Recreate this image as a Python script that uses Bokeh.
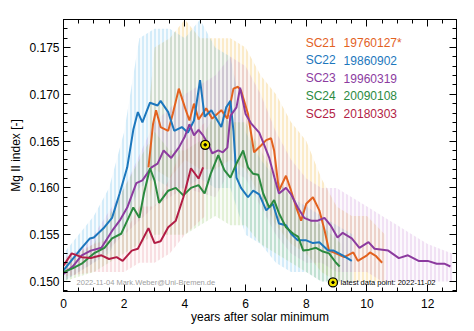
from bokeh.plotting import figure
from bokeh.models import Range1d, LinearAxis, Label, SingleIntervalTicker, FixedTicker, PrintfTickFormatter
from bokeh.embed import file_html
from bokeh.resources import INLINE

# ---------------- data ----------------
cycles = ["SC21", "SC22", "SC23", "SC24", "SC25"]
min_dates = ["19760127*", "19860902", "19960319", "20090108", "20180303"]
line_colors = ["#e3621f", "#1c77bd", "#8c3b9f", "#2b8a3f", "#b21d45"]
noise_colors = ["#f0b02a", "#55b2e6", "#c58bd6", "#8fc25c", "#e2808f"]

# smoothed series: years after minimum, Mg II index
t21 = [2.8, 2.95, 3.05, 3.2, 3.45, 3.6, 3.8, 4.0, 4.15, 4.3, 4.45, 4.7, 4.9, 5.2, 5.4, 5.6, 5.75, 5.85,
       6.08, 6.28, 6.5, 6.68, 6.84, 6.94, 7.1, 7.33, 7.5, 7.67, 7.83, 8.0, 8.22, 8.43, 8.6, 8.75, 8.98,
       9.25, 9.55, 9.7, 10.0, 10.1, 10.3, 10.5]
v21 = [0.1622, 0.1668, 0.1683, 0.1665, 0.1661, 0.1679, 0.1706, 0.1686, 0.1672, 0.1690, 0.1673, 0.1685,
       0.1674, 0.1683, 0.1674, 0.1706, 0.1708, 0.1704, 0.1679, 0.1638, 0.1645, 0.1651, 0.1653, 0.1640,
       0.1597, 0.1613, 0.1597, 0.1579, 0.1565, 0.1583, 0.1590, 0.1576, 0.1555, 0.1533, 0.1530, 0.1526,
       0.1531, 0.1522, 0.1528, 0.1531, 0.1527, 0.1520]

t22 = [0.0, 0.2, 0.4, 0.6, 0.87, 1.0, 1.35, 1.6, 1.85, 2.1, 2.3, 2.45, 2.6, 2.85, 3.1, 3.2, 3.45, 3.65,
       3.9, 4.1, 4.3, 4.5, 4.65, 4.87, 5.2, 5.36, 5.5, 5.6, 5.7, 5.85, 6.08, 6.25, 6.45, 6.68, 6.9, 7.1,
       7.33, 7.5, 7.72, 8.0, 8.22, 8.43, 8.72, 8.9, 9.2, 9.5]
v22 = [0.1512, 0.1520, 0.1528, 0.1536, 0.1546, 0.1547, 0.1558, 0.1568, 0.1594, 0.1622, 0.1662, 0.1681,
       0.1670, 0.1691, 0.1688, 0.1693, 0.1681, 0.1661, 0.1665, 0.1659, 0.1672, 0.1715, 0.1676, 0.1683,
       0.1665, 0.1686, 0.1693, 0.1661, 0.1611, 0.1600, 0.1590, 0.1597, 0.1593, 0.1576, 0.1583, 0.1562,
       0.1560, 0.1551, 0.1544, 0.1544, 0.1541, 0.1542, 0.1533, 0.1533, 0.1528, 0.1522]

t23 = [0.0, 0.3, 0.6, 0.9, 1.25, 1.6, 1.85, 2.1, 2.4, 2.6, 2.9, 3.1, 3.3, 3.55, 3.8, 4.0, 4.15, 4.3,
       4.45, 4.6, 4.75, 4.9, 5.1, 5.25, 5.4, 5.5, 5.7, 5.82, 6.0, 6.18, 6.45, 6.6, 6.78, 6.95, 7.1, 7.33,
       7.5, 7.72, 7.93, 8.15, 8.38, 8.6, 8.8, 9.03, 9.2, 9.5, 9.75, 10.05, 10.25, 10.7, 11.05, 11.35,
       11.7, 12.0, 12.3, 12.55, 12.75]
v23 = [0.1508, 0.1516, 0.1528, 0.1533, 0.1536, 0.1554, 0.1565, 0.1579, 0.1605, 0.1608, 0.1622, 0.1626,
       0.1640, 0.1632, 0.1643, 0.1655, 0.1668, 0.1656, 0.1662, 0.1656, 0.1648, 0.1637, 0.1640, 0.1638,
       0.1643, 0.1677, 0.1686, 0.1707, 0.1679, 0.1669, 0.1659, 0.1647, 0.1632, 0.1611, 0.1594, 0.1600,
       0.1593, 0.1579, 0.1568, 0.1565, 0.1565, 0.1568, 0.1560, 0.1547, 0.1552, 0.1546, 0.1536, 0.1542,
       0.1535, 0.1533, 0.1525, 0.1528, 0.1522, 0.1522, 0.1519, 0.1519, 0.1516]

t24 = [0.0, 0.3, 0.6, 1.0, 1.35, 1.6, 1.9, 2.1, 2.3, 2.5, 2.65, 2.85, 3.0, 3.15, 3.45, 3.7, 3.95, 4.2,
       4.45, 4.65, 4.85, 5.1, 5.3, 5.5, 5.7, 5.92, 6.08, 6.25, 6.42, 6.58, 6.78, 6.94, 7.1, 7.33, 7.57,
       7.73, 7.9, 8.1, 8.32, 8.55, 8.75, 8.98, 9.1]
v24 = [0.1510, 0.1514, 0.1519, 0.1530, 0.1536, 0.1546, 0.1551, 0.1565, 0.1579, 0.1568, 0.1594, 0.1621,
       0.1608, 0.1584, 0.1597, 0.1600, 0.1592, 0.1600, 0.1603, 0.1594, 0.1615, 0.1635, 0.1619, 0.1611,
       0.1626, 0.1640, 0.1622, 0.1615, 0.1614, 0.1594, 0.1579, 0.1587, 0.1573, 0.1558, 0.1551, 0.1548,
       0.1533, 0.1534, 0.1536, 0.1532, 0.1530, 0.1520, 0.1516]

t25 = [0.0, 0.27, 0.6, 0.9, 1.25, 1.5, 1.75, 1.95, 2.25, 2.45, 2.8, 3.0, 3.2, 3.45, 3.7, 3.95, 4.2,
       4.45, 4.6]
v25 = [0.1517, 0.1530, 0.1526, 0.1525, 0.1528, 0.1524, 0.1526, 0.1522, 0.1533, 0.1535, 0.1557, 0.1541,
       0.1543, 0.1558, 0.1565, 0.1590, 0.1621, 0.1610, 0.1622]

# spread of the daily values (upper / lower envelope)
nt21 = [2.8, 3.0, 3.5, 4.0, 4.5, 5.0, 5.5, 6.0, 6.5, 7.0, 7.5, 8.0, 8.5, 9.0, 9.5, 10.0, 10.6]
nh21 = [0.168, 0.175, 0.176, 0.178, 0.176, 0.176, 0.176, 0.175, 0.172, 0.170, 0.167, 0.165, 0.161,
        0.158, 0.157, 0.157, 0.155]
nl21 = [0.158, 0.162, 0.161, 0.163, 0.162, 0.162, 0.163, 0.162, 0.159, 0.156, 0.154, 0.153, 0.151,
        0.150, 0.150, 0.150, 0.150]
nt22 = [0, 0.5, 1.0, 1.5, 2.0, 2.5, 3.0, 3.5, 4.0, 4.5, 5.0, 5.5, 6.0, 6.5, 7.0, 7.5, 8.0, 8.5, 9.0, 9.55]
nh22 = [0.153, 0.155, 0.157, 0.160, 0.166, 0.176, 0.177, 0.177, 0.176, 0.178, 0.175, 0.174, 0.166,
        0.163, 0.161, 0.159, 0.158, 0.157, 0.156, 0.155]
nl22 = [0.150, 0.151, 0.152, 0.153, 0.156, 0.160, 0.161, 0.160, 0.160, 0.161, 0.160, 0.160, 0.155,
        0.154, 0.152, 0.151, 0.151, 0.150, 0.150, 0.150]
nt23 = [0, 1, 2, 3, 4, 5, 5.5, 6, 6.5, 7, 7.5, 8, 8.5, 9, 9.5, 10, 10.5, 11, 11.5, 12, 12.8]
nh23 = [0.152, 0.155, 0.160, 0.167, 0.170, 0.172, 0.174, 0.173, 0.170, 0.166, 0.163, 0.161, 0.160,
        0.160, 0.159, 0.158, 0.157, 0.156, 0.155, 0.154, 0.153]
nl23 = [0.150, 0.152, 0.155, 0.158, 0.160, 0.159, 0.162, 0.161, 0.158, 0.155, 0.153, 0.152, 0.152,
        0.151, 0.151, 0.151, 0.150, 0.150, 0.150, 0.150, 0.150]
nt24 = [0, 1, 2, 2.5, 3, 3.5, 4, 4.5, 5, 5.5, 6, 6.5, 7, 7.5, 8, 8.5, 9.15]
nh24 = [0.152, 0.154, 0.160, 0.163, 0.166, 0.164, 0.164, 0.165, 0.168, 0.167, 0.167, 0.164, 0.161,
        0.159, 0.157, 0.156, 0.154]
nl24 = [0.150, 0.151, 0.153, 0.154, 0.155, 0.155, 0.155, 0.156, 0.157, 0.156, 0.156, 0.154, 0.153,
        0.152, 0.151, 0.150, 0.150]
nt25 = [0, 1, 2, 2.5, 3, 3.5, 4, 4.67]
nh25 = [0.1525, 0.154, 0.155, 0.158, 0.158, 0.161, 0.165, 0.167]
nl25 = [0.1505, 0.151, 0.151, 0.152, 0.152, 0.153, 0.155, 0.157]

latest_t = 4.67
latest_v = 0.1646
latest_date = "2022-11-02"
credit = "2022-11-04  Mark.Weber@Uni-Bremen.de"

smooth = [(t21, v21), (t22, v22), (t23, v23), (t24, v24), (t25, v25)]
noise = [(nt21, nh21, nl21), (nt22, nh22, nl22), (nt23, nh23, nl23), (nt24, nh24, nl24), (nt25, nh25, nl25)]

FONT = "Liberation Sans"
X0, X1 = 0.0, 12.95
Y0, Y1 = 0.14893, 0.17799
XMAJ, XMIN_N = 2, 4
YMAJ, YMIN_N = 0.005, 5

p = figure(width=474, height=331, output_backend="svg", toolbar_location=None,
           x_range=Range1d(X0, X1), y_range=Range1d(Y0, Y1),
           min_border_left=63, min_border_right=18, min_border_top=19, min_border_bottom=40)
p.xgrid.visible = False
p.ygrid.visible = False
p.outline_line_color = "black"
p.outline_line_width = 1
p.background_fill_color = "white"
p.border_fill_color = "white"

bottom_ax = p.below[0]
left_ax = p.left[0]
bottom_ax.ticker = SingleIntervalTicker(interval=XMAJ, num_minor_ticks=XMIN_N)
left_ax.ticker = SingleIntervalTicker(interval=YMAJ, num_minor_ticks=YMIN_N)
left_ax.formatter = PrintfTickFormatter(format="%.3f")
left_ax.axis_label = "Mg II index [-]"
bottom_ax.axis_label = "years after solar minimum"

# mirrored ticks on top and right (no labels: only "minor" ticks of a fixed ticker)
x_major_pos = [XMAJ * i for i in range(0, 7)]
x_minor_pos = [XMAJ / XMIN_N * i for i in range(0, 26) if i % XMIN_N]
y_major_pos = [0.150 + YMAJ * i for i in range(0, 6)]
y_minor_pos = [round(0.149 + 0.001 * i, 4) for i in range(0, 29)]
y_minor_pos = [v for v in y_minor_pos if min(abs(v - m) for m in y_major_pos) > 1e-6]

top_major = LinearAxis(ticker=FixedTicker(ticks=[], minor_ticks=x_major_pos))
top_minor = LinearAxis(ticker=FixedTicker(ticks=[], minor_ticks=x_minor_pos))
right_major = LinearAxis(ticker=FixedTicker(ticks=[], minor_ticks=y_major_pos))
right_minor = LinearAxis(ticker=FixedTicker(ticks=[], minor_ticks=y_minor_pos))
for ax, ln in ((top_major, 7), (top_minor, 4), (right_major, 7), (right_minor, 4)):
    ax.minor_tick_in = ln
    ax.minor_tick_out = 0
    ax.major_tick_in = 0
    ax.major_tick_out = 0
    ax.major_label_standoff = 0
    ax.axis_line_color = "black"
    ax.minor_tick_line_color = "black"
p.add_layout(top_major, "above")
p.add_layout(top_minor, "above")
p.add_layout(right_major, "right")
p.add_layout(right_minor, "right")

for ax in (bottom_ax, left_ax):
    ax.major_tick_in = 7
    ax.major_tick_out = 0
    ax.minor_tick_in = 4
    ax.minor_tick_out = 0
    ax.axis_line_color = "black"
    ax.major_tick_line_color = "black"
    ax.minor_tick_line_color = "black"
    ax.major_label_text_font = FONT
    ax.major_label_text_font_size = "12px"
    ax.major_label_text_color = "black"
    ax.axis_label_text_font = FONT
    ax.axis_label_text_font_size = "12px"
    ax.axis_label_text_font_style = "normal"
    ax.axis_label_text_color = "black"
bottom_ax.major_label_standoff = 7
bottom_ax.axis_label_standoff = -1
left_ax.major_label_standoff = 4
left_ax.axis_label_standoff = 3

# daily scatter (shown as light hatched envelopes)
for (nt, nh, nl), c in zip(noise, noise_colors):
    p.varea(x=nt, y1=nl, y2=nh, fill_color=c, fill_alpha=0.05,
            hatch_pattern="vertical_line", hatch_color=c, hatch_alpha=0.42,
            hatch_scale=4, hatch_weight=1)

# smoothed curves
for (t, v), c in zip(smooth, line_colors):
    p.line(t, v, line_color=c, line_width=2)

# latest data point
p.scatter([latest_t], [latest_v], size=9, fill_color="#f2e600", line_color="black", line_width=1.3)
p.scatter([latest_t], [latest_v], size=2.5, fill_color="black", line_color="black")

# legend text
row_top = 0.17553
row_step = 0.00190
for i, (name, date, c) in enumerate(zip(cycles, min_dates, line_colors)):
    yy = row_top - i * row_step
    p.add_layout(Label(x=7.98, y=yy, text=name, text_color=c, text_font=FONT,
                       text_font_size="12px", text_baseline="middle"))
    p.add_layout(Label(x=9.23, y=yy, text=date, text_color=c, text_font=FONT,
                       text_font_size="12px", text_baseline="middle"))

# title
p.add_layout(Label(x=6.46, y=0.17925, text="Bremen composite Mg II index", text_font=FONT,
                   text_font_size="15px", text_align="center", text_baseline="middle",
                   text_color="black"))

# footer notes
p.add_layout(Label(x=0.43, y=0.1499, text=credit, text_font=FONT, text_font_size="7.5px",
                   text_color="#a0a0a0", text_baseline="middle"))
p.scatter([8.88], [0.1499], size=9, fill_color="#f2e600", line_color="black", line_width=1.3)
p.scatter([8.88], [0.1499], size=2.5, fill_color="black", line_color="black")
p.add_layout(Label(x=9.13, y=0.1499, text="latest data point: " + latest_date, text_font=FONT,
                   text_font_size="7.5px", text_color="black", text_baseline="middle"))

open("out.html", "w").write(file_html(p, INLINE))
